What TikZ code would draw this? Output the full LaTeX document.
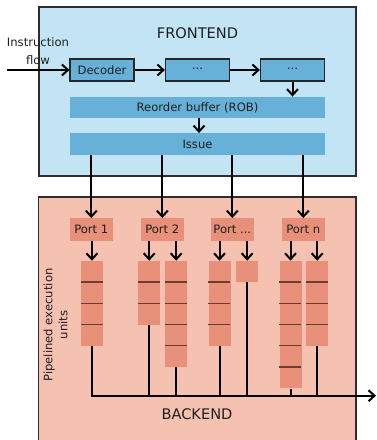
\documentclass[tikz,border=0pt]{standalone}
\usepackage{fontspec}
\setmainfont{DejaVu Sans}
\usetikzlibrary{arrows.meta}

\definecolor{feback}{HTML}{C2E4F5}
\definecolor{febox}{HTML}{67B1D8}
\definecolor{beback}{HTML}{F5C2B1}
\definecolor{bebox}{HTML}{E9907A}
\definecolor{stageline}{HTML}{6B3D2E}
\definecolor{frame}{HTML}{2E2E2E}

\tikzset{
  area/.style={draw=frame, line width=1.3pt},
  lbl/.style={font=\fontsize{11.6}{14}\selectfont, text=black!88},
  title/.style={font=\fontsize{14.6}{17}\selectfont, text=black!88},
  stagebox/.style={draw=black!85, line width=1.2pt, fill=febox, lbl,
    minimum width=64pt, minimum height=22pt, inner sep=0pt},
  bar/.style={fill=febox, lbl, minimum width=255pt, minimum height=21.5pt, inner sep=0pt},
  portbox/.style={fill=bebox, lbl, minimum width=42.7pt, minimum height=22.5pt, inner sep=0pt},
  unitbox/.style={fill=bebox, minimum width=22pt, inner sep=0pt, anchor=north west},
  flow/.style={line width=2pt, -{Straight Barb[length=6pt,width=11pt,line width=2pt]}},
  wire/.style={line width=2pt}
}

\begin{document}
\begin{tikzpicture}[x=1pt, y=-1pt]
\useasboundingbox (0,0) rectangle (377,440);
\clip (0,0) rectangle (377,440);
\fill[white] (0,0) rectangle (377,440);

% ---------- frontend ----------
\draw[area, fill=feback] (39,7) rectangle (356,176);
\node[title] (fe) at (197.5,33) {FRONTEND};
\node[lbl, align=center, font=\fontsize{11.6}{18.5}\selectfont] (inflow) at (38,51) {Instruction\\flow};
\coordinate (instart) at (7,70);

\node[stagebox] (dec) at (102,70) {Decoder};
\node[stagebox] (st2) at (197.5,70) {\raisebox{2pt}{...}};
\node[stagebox] (st3) at (292.5,70) {\raisebox{2pt}{...}};
\node[bar] (rob) at (197.5,107.5) {Reorder buffer (ROB)};
\node[bar] (issue) at (197.5,144) {Issue};

\draw[flow] (instart) -- (dec.west);
\draw[flow] (dec.east) -- (st2.west);
\draw[flow] (st2.east) -- (st3.west);
\draw[flow] (st3.south) -- (st3.south |- rob.north);
\draw[flow] ([xshift=1.5pt]rob.south) -- ([xshift=1.5pt]issue.north);

% ---------- backend ----------
\draw[area, fill=beback] (38.3,197) rectangle (356,446);
\node[title] (be) at (197,414) {BACKEND};
\node[lbl, rotate=90, align=center, font=\fontsize{11.6}{15}\selectfont] (pipe) at (55.5,325)
  {Pipelined execution\\units};

\node[portbox] (p1) at (91.3,229.5) {Port 1};
\node[portbox] (p2) at (162.3,229.5) {Port 2};
\node[portbox] (p3) at (232.3,229.5) {Port ...};
\node[portbox] (p4) at (303.3,229.5) {Port n};

\foreach \p in {p1,p2,p3,p4}
  \draw[flow] (issue.south -| \p.north) -- (\p.north);

% execution units: name / left edge / number of stages
\foreach \u/\x/\n in {u1/80.7/4, u2a/138/3, u2b/165/5, u3a/208.3/4, u3b/236/1, u4a/279.3/6, u4b/306/4}{
  \node[unitbox, minimum height=\n*21.25pt] (\u) at (\x,260.7) {};
  \ifnum\n>1
    \foreach \k in {2,...,\n}
      \draw[stageline, line width=1.1pt] (\x,{260.7+(\k-1)*21.25}) -- ++(22,0);
  \fi
}

% port to unit arrows
\draw[flow] (u1.north |- p1.south) -- (u1.north);
\draw[flow] (u2a.north |- p2.south) -- (u2a.north);
\draw[flow] (u2b.north |- p2.south) -- (u2b.north);
\draw[flow] (u3a.north |- p3.south) -- (u3a.north);
\draw[flow] (u3b.north |- p3.south) -- (u3b.north);
\draw[flow] (u4a.north |- p4.south) -- (u4a.north);
\draw[flow] (u4b.north |- p4.south) -- (u4b.north);

% result bus
\coordinate (busend) at (376,395.7);
\draw[flow] (u1.south) |- (busend);
\foreach \u in {u2a,u2b,u3a,u3b,u4a,u4b}
  \draw[wire] (\u.south) -- (\u.south |- busend);
\end{tikzpicture}
\end{document}
